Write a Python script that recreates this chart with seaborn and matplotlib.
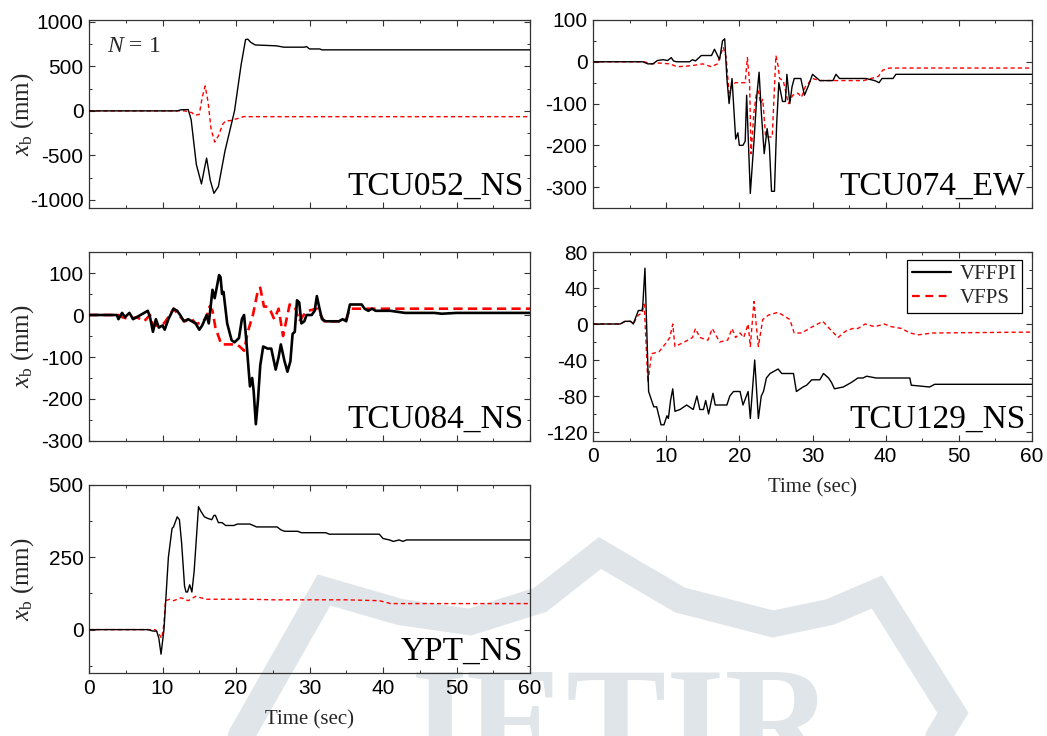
import numpy as np
import pandas as pd
import matplotlib
matplotlib.use("Agg")
import matplotlib.pyplot as plt
from matplotlib.lines import Line2D
from matplotlib.ticker import MultipleLocator, AutoMinorLocator
import seaborn as sns

# ---- base displacement records (time in s, displacement in mm) ----
tcu052_vffpi = [(0, 0), (12.0, 0), (12.5, 12), (13.5, 15), (13.9, -100), (14.6, -600), (15.3, -820),
                (15.7, -650), (16.0, -530), (16.5, -780), (17.0, -925), (17.6, -850), (18.5, -450),
                (19.8, 0), (20.7, 520), (21.3, 800), (21.6, 805), (22.0, 770), (22.6, 740), (25.5, 730),
                (26.5, 715), (29.3, 715), (29.6, 722), (30.0, 695), (31.4, 695), (31.7, 685), (60, 685)]
tcu052_vfps = [(0, 0), (13.0, 0), (14.0, -20), (14.4, -50), (15.0, -40), (15.4, 150), (15.8, 280),
               (16.2, 100), (16.6, -200), (17.1, -350), (17.6, -280), (18.2, -150), (18.6, -110),
               (19.2, -110), (19.8, -95), (20.5, -80), (21.0, -65), (60, -65)]

tcu074_vffpi = [(0, 0), (6.8, 0), (7.5, -5), (8.2, -5), (8.8, 3), (9.6, 5), (10.2, 3), (10.7, 10),
                (11.0, 2), (11.4, 0), (13.2, 0), (13.6, 5), (14.0, 2), (14.8, 15), (16.2, 15), (16.6, 30),
                (17.3, 5), (17.7, 50), (18.0, 55), (18.3, -40), (18.6, -100), (19.0, -40), (19.5, -185),
                (19.8, -170), (20.0, -200), (20.5, -200), (20.8, -190), (21.0, -80), (21.5, -315),
                (22.0, -190), (22.4, -80), (22.7, -25), (23.0, -120), (23.4, -220), (23.8, -160),
                (24.1, -200), (24.4, -310), (24.8, -310), (25.1, -150), (25.4, -50), (25.9, -95),
                (26.3, -95), (26.5, -30), (26.9, -100), (27.2, -60), (27.5, -40), (28.4, -40), (28.9, -80),
                (29.5, -55), (30.0, -30), (31.0, -45), (32.8, -45), (33.2, -30), (33.7, -40), (37.3, -40),
                (38.5, -45), (39.1, -50), (39.5, -40), (41.0, -40), (41.4, -30), (60, -30)]
tcu074_vfps = [(0, 0), (7, 0), (8, -5), (9, -3), (10.5, -5), (11.5, -12), (13, -10), (14, -8), (15, -5),
               (16.2, -12), (17.0, -5), (17.5, 20), (17.8, 35), (18.2, 10), (18.6, -75), (19.0, -55),
               (19.5, -50), (20.8, -50), (21.1, 10), (21.4, -50), (21.6, -220), (22.0, -120), (22.3, -80),
               (22.6, -70), (22.9, -100), (23.2, -90), (23.6, -180), (24.5, -180), (24.8, -60), (25.0, 15),
               (25.3, -10), (25.5, -40), (26.0, -45), (26.7, -100), (27.3, -80), (28.0, -75), (28.5, -85),
               (29.0, -60), (30.0, -40), (31.0, -45), (37.0, -45), (38.0, -40), (39.0, -35), (39.6, -20),
               (40.5, -15), (60, -15)]

tcu084_vffpi = [(0, 0), (3.8, 0), (4.0, -10), (4.5, 5), (4.9, -5), (5.5, 5), (6.0, -10), (6.5, -5),
                (7.0, 0), (8.0, 10), (8.3, -5), (8.7, -40), (9.1, -10), (9.5, -30), (10.0, -25), (10.3, -35),
                (10.8, -10), (11.5, 15), (12.0, 10), (12.4, 0), (12.9, -15), (13.5, -10), (14.5, -20),
                (15.0, -35), (15.4, -25), (16.0, 0), (16.3, -20), (16.8, 60), (17.1, 40), (17.7, 95),
                (17.9, 90), (18.1, 50), (18.3, 55), (18.8, -20), (19.4, -60), (19.8, -65), (20.4, -55),
                (20.8, -10), (21.1, 0), (21.4, -60), (21.9, -170), (22.2, -150), (22.4, -180), (22.7, -260),
                (23.0, -200), (23.3, -120), (23.7, -75), (24.3, -80), (24.8, -80), (25.4, -130),
                (25.8, -100), (26.1, -70), (26.6, -110), (27.0, -135), (27.4, -110), (27.7, -45),
                (28.0, -40), (28.3, 35), (28.6, 30), (28.9, -20), (29.3, -15), (29.6, 0), (30.3, 0),
                (30.7, 10), (31.0, 45), (31.3, 20), (31.7, -10), (32.2, -15), (34.0, -15), (34.5, -10),
                (35.0, -15), (35.5, 25), (37.1, 25), (37.5, 15), (38.0, 10), (38.5, 15), (39.0, 10),
                (41.0, 10), (43.0, 5), (47.0, 5), (48.0, 3), (50.0, 5), (60, 5)]
tcu084_vfps = [(0, 0), (4.0, 0), (4.5, -5), (5.5, -10), (6.5, -5), (7.5, -15), (8.3, 0), (8.7, -25),
               (9.5, -25), (10.2, -20), (10.8, -5), (11.5, 15), (12.2, 0), (13.0, -15), (14.0, -10),
               (14.5, -20), (15.3, -20), (16.0, -5), (16.4, 20), (16.8, 10), (17.2, -30), (18.0, -70),
               (20.0, -70), (20.5, -75), (21.1, -85), (21.6, -40), (22.3, 0), (23.0, 60), (23.3, 65),
               (23.8, 20), (24.3, 20), (24.7, 10), (25.2, -10), (25.8, 15), (26.4, -50), (27.3, 25),
               (28.0, 20), (28.6, -15), (29.2, 0), (29.8, 10), (31.0, 15), (32.0, -15), (34.0, -15),
               (35.0, -10), (35.5, 15), (37.0, 15), (60, 15)]

tcu129_vffpi = [(0, 0), (3.7, 0), (4.4, 3), (5.1, 3), (5.3, 2), (5.5, 0), (6.2, 15), (6.7, 15), (6.8, 20),
                (7.1, 62), (7.6, -75), (8.3, -92), (8.7, -92), (9.3, -112), (9.7, -112), (10.1, -102),
                (10.3, -105), (10.6, -85), (10.9, -72), (11.2, -97), (11.9, -95), (12.8, -90), (13.7, -95),
                (14.2, -80), (14.6, -95), (15.1, -95), (15.4, -85), (15.8, -100), (16.4, -77), (16.7, -90),
                (18.3, -90), (18.7, -80), (19.2, -75), (20.1, -75), (20.5, -90), (21.2, -75), (21.5, -105),
                (22.1, -40), (22.6, -105), (23.0, -80), (23.3, -75), (23.7, -60), (24.2, -55), (25.3, -50),
                (25.8, -55), (27.4, -55), (27.8, -75), (28.7, -70), (29.2, -68), (29.9, -62), (31.0, -62),
                (31.5, -55), (32.2, -60), (32.6, -65), (33.0, -72), (34.2, -70), (35.3, -65), (36.2, -60),
                (36.9, -60), (37.4, -58), (38.7, -60), (43.3, -60), (43.5, -68), (46.0, -70), (46.7, -67),
                (60, -67)]
tcu129_vfps = [(0, 0), (3.7, 0), (4.4, 3), (5.1, 3), (5.5, 0), (6.2, 10), (6.7, 12), (7.0, 22), (7.5, -65),
               (8.0, -33), (9.0, -31), (9.9, -22), (10.5, -15), (10.9, 0), (11.2, -25), (12.5, -20),
               (13.6, -15), (14.0, -5), (14.6, -15), (15.7, -18), (16.3, -5), (17.3, -20), (18.4, -18),
               (19.0, -5), (19.5, -15), (20.1, -10), (20.6, -15), (21.2, 0), (21.5, -25), (22.0, 25),
               (22.6, -25), (23.2, 5), (24.0, 10), (25.3, 13), (26.9, 5), (27.5, -10), (28.5, -10),
               (30.0, -3), (31.4, 3), (32.3, -5), (33.5, -15), (34.5, -8), (35.5, -5), (36.2, -5),
               (37.2, 0), (38.5, -3), (39.8, 0), (40.8, -3), (42.2, -5), (43.3, -10), (44.5, -12),
               (46.4, -10), (60, -9)]

ypt_vffpi = [(0, 0), (8.0, 0), (8.7, -5), (9.2, -5), (9.5, -30), (9.8, -85), (10.2, 0), (10.8, 250),
             (11.3, 350), (11.5, 355), (12.0, 390), (12.3, 380), (12.6, 300), (13.0, 150), (13.2, 130),
             (13.4, 130), (13.7, 155), (14.0, 130), (14.3, 200), (14.9, 425), (15.2, 410), (15.7, 390),
             (16.1, 385), (16.7, 380), (17.0, 395), (17.2, 395), (17.6, 370), (18.1, 370), (18.6, 360),
             (19.7, 360), (20.2, 365), (21.9, 365), (22.8, 355), (25.6, 355), (26.1, 345), (26.6, 340),
             (28.4, 340), (28.9, 335), (32.2, 335), (32.7, 330), (39.5, 330), (40.0, 315), (40.9, 310),
             (41.4, 305), (42.2, 310), (42.7, 305), (43.2, 310), (60, 310)]
ypt_vfps = [(0, 0), (9.0, 0), (9.5, -15), (9.9, -30), (10.2, 20), (10.4, 100), (11.0, 105), (11.5, 100),
            (12.5, 110), (13.5, 100), (14.5, 115), (15.2, 110), (16.0, 105), (22.0, 105), (25.0, 103),
            (35.0, 103), (39.5, 100), (40.3, 95), (41.0, 90), (60, 90)]

station_names = ["TCU052_NS", "TCU074_EW", "TCU084_NS", "TCU129_NS", "YPT_NS"]
series_names = ["VFFPI", "VFPS"]
y_limits = [(-1090, 1020), (-350, 100), (-300, 150), (-130, 80), (-150, 500)]
y_major = [500, 100, 100, 40, 250]
x_ticks = [0, 10, 20, 30, 40, 50, 60]

records = [(tcu052_vffpi, tcu052_vfps), (tcu074_vffpi, tcu074_vfps), (tcu084_vffpi, tcu084_vfps),
           (tcu129_vffpi, tcu129_vfps), (ypt_vffpi, ypt_vfps)]

sns.set_theme(style="ticks")
plt.rcParams.update({
    "font.family": ["Liberation Sans", "DejaVu Sans"],
    "axes.unicode_minus": False,
    "mathtext.fontset": "custom",
    "mathtext.rm": "Liberation Serif",
    "mathtext.it": "Liberation Serif:italic",
    "mathtext.bf": "Liberation Serif:bold",
    "axes.edgecolor": "#333333",
    "axes.linewidth": 0.9,
    "xtick.color": "#333333",
    "ytick.color": "#333333",
    "xtick.labelcolor": "black",
    "ytick.labelcolor": "black",
})

W, H = 1047, 736
fig = plt.figure(figsize=(W / 100, H / 100), dpi=100)
fig.patch.set_facecolor("white")

# faint publisher emblem in the background
wm_color = "#dfe5e9"
emblem_x = [241, 324, 400, 470, 540, 600, 680, 773, 830, 877, 953, 900]
emblem_y = [736, 590, 612, 622, 600, 553, 600, 624, 612, 592, 713, 800]
fig.add_artist(Line2D(np.array(emblem_x) / W, 1 - np.array(emblem_y) / H, color=wm_color, lw=19,
                      solid_joinstyle="miter", zorder=-5, transform=fig.transFigure))
fig.text(612 / W, 1 - 666 / H, "JETIR", fontsize=108, family="Liberation Serif", fontweight="bold",
         color=wm_color, ha="center", va="top", zorder=-5)

# axes boxes in pixels: left, right, top, bottom
boxes = [(89, 530, 20, 208), (593, 1032, 20, 208), (89, 530, 252, 441),
         (593, 1032, 252, 441), (89, 530, 485, 673)]

serif = ["Liberation Serif", "DejaVu Serif"]
thick = [False, False, True, False, False]

for i, (box, name) in enumerate(zip(boxes, station_names)):
    l, r, t, b = box
    ax = fig.add_axes([l / W, 1 - b / H, (r - l) / W, (b - t) / H])
    ax.set_facecolor("none")
    blk, red = records[i]
    lw = 1.9 if thick[i] else 1.0
    dash = (3.5, 2.0) if thick[i] else (3.0, 2.2)
    d1 = pd.DataFrame(blk, columns=["t", "x"])
    d2 = pd.DataFrame(red, columns=["t", "x"])
    sns.lineplot(data=d2, x="t", y="x", ax=ax, color="#ff0000", lw=lw, sort=False,
                 estimator=None, label=series_names[1], zorder=2)
    ax.lines[-1].set_dashes(dash)
    sns.lineplot(data=d1, x="t", y="x", ax=ax, color="black", lw=lw, sort=False,
                 estimator=None, label=series_names[0], zorder=3)
    ax.set_xlim(0, 60)
    ax.set_ylim(*y_limits[i])
    ax.xaxis.set_major_locator(MultipleLocator(10))
    ax.xaxis.set_minor_locator(MultipleLocator(5))
    ax.yaxis.set_major_locator(MultipleLocator(y_major[i]))
    ax.yaxis.set_minor_locator(AutoMinorLocator(2))
    ax.tick_params(which="both", direction="in", top=True, right=True)
    ax.tick_params(which="major", length=4, width=0.8, labelsize=15, pad=4)
    ax.tick_params(which="minor", length=2.5, width=0.7)
    ax.set_xlabel("")
    ax.set_ylabel("")
    if i in (3, 4):
        ax.set_xticks(x_ticks)
        ax.set_xlabel("Time (sec)", family=serif, fontsize=15, labelpad=9)
    else:
        ax.tick_params(axis="x", labelbottom=False)
    if i in (0, 2, 4):
        ax.set_ylabel(r"$x_\mathrm{b}$ (mm)", family=serif, fontsize=18)
        ax.yaxis.set_label_coords(-53 / (r - l), 0.5)
    ax.text(0.985, 0.035, name, transform=ax.transAxes, ha="right", va="bottom",
            family=serif, fontsize=24, color="black")
    if i == 0:
        ax.text(0.04, 0.86, r"$N$ = 1", transform=ax.transAxes, family=serif, fontsize=17,
                ha="left", va="center")
    if i == 3:
        handles = [Line2D([], [], color="black", lw=1.6),
                   Line2D([], [], color="#ff0000", lw=1.6, dashes=(3.5, 2.5))]
        leg = ax.legend(handles, series_names, loc="upper right", bbox_to_anchor=(0.977, 0.96),
                        prop={"family": serif, "size": 15}, frameon=True, fancybox=False,
                        edgecolor="black", framealpha=1, handlelength=1.9, handletextpad=0.4,
                        borderpad=0.25, labelspacing=0.2, borderaxespad=0)
        leg.get_frame().set_linewidth(0.9)
    else:
        lg = ax.get_legend()
        if lg is not None:
            lg.remove()

fig.savefig("out.png", dpi=100, facecolor="white")
